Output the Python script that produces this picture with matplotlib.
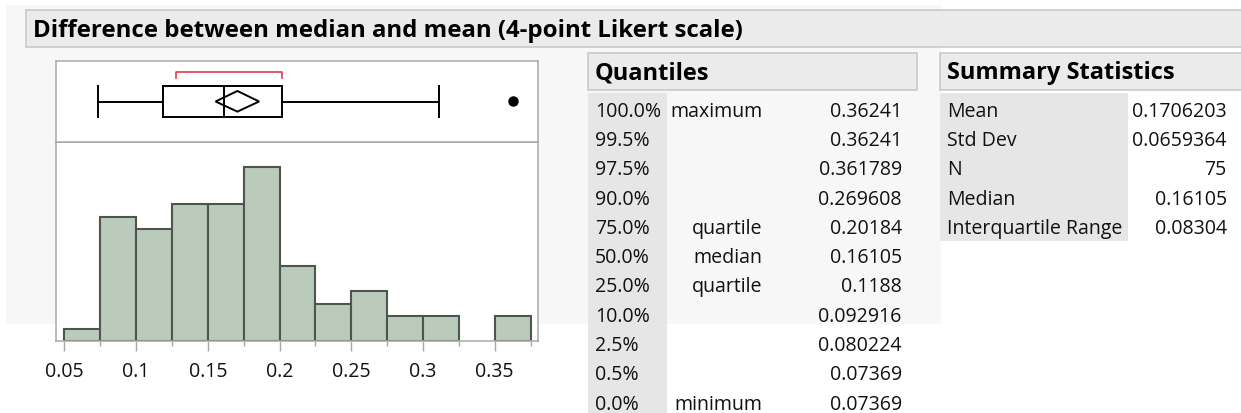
import matplotlib
matplotlib.use("Agg")
import matplotlib.pyplot as plt
from matplotlib.patches import Rectangle, Polygon
import numpy as np

# ---------------- data ----------------
title = "Difference between median and mean (4-point Likert scale)"

bin_edges = [0.05, 0.075, 0.1, 0.125, 0.15, 0.175, 0.2, 0.225, 0.25, 0.275,
             0.3, 0.325, 0.35, 0.375]
counts = [1, 10, 9, 11, 11, 14, 6, 3, 4, 2, 2, 0, 2]

xtick_values = [0.05, 0.1, 0.15, 0.2, 0.25, 0.3, 0.35]
xtick_labels = ["0.05", "0.1", "0.15", "0.2", "0.25", "0.3", "0.35"]
xminor_values = [0.075, 0.125, 0.175, 0.225, 0.275, 0.325, 0.375]

box_min = 0.07369
box_q1 = 0.1188
box_median = 0.16105
box_q3 = 0.20184
whisker_high = 0.3112
outliers = [0.36241]
mean_value = 0.1706203
std_dev = 0.0659364
n_obs = 75
t_crit = 1.9925
shortest_half = [0.1278, 0.2018]

quant_pcts = ["100.0%", "99.5%", "97.5%", "90.0%", "75.0%", "50.0%",
              "25.0%", "10.0%", "2.5%", "0.5%", "0.0%"]
quant_names = ["maximum", "", "", "", "quartile", "median", "quartile",
               "", "", "", "minimum"]
quant_values = ["0.36241", "0.36241", "0.361789", "0.269608", "0.20184",
                "0.16105", "0.1188", "0.092916", "0.080224", "0.07369",
                "0.07369"]

summary_labels = ["Mean", "Std Dev", "N", "Median", "Interquartile Range"]
summary_values = ["0.1706203", "0.0659364", "75", "0.16105", "0.08304"]

# ---------------- figure ----------------
W, H, DPI = 1241, 414, 100
FAMILY = "Open Sans"
TXT = "#111111"
FRAME = "#a8a8a8"

fig = plt.figure(figsize=(W / DPI, H / DPI), dpi=DPI)
fig.patch.set_facecolor("white")
renderer = fig.canvas.get_renderer()


def fit_size(text, target_px, weight="normal"):
    t = fig.text(0, 0, text, fontsize=20, family=FAMILY, weight=weight)
    w = t.get_window_extent(renderer=renderer).width
    t.remove()
    return 20 * target_px / w


body_fs = fit_size("Interquartile Range", 175)
title_fs = fit_size(title, 710, "bold")
head_fs = fit_size("Summary Statistics", 226.7, "bold")


def px_axes(x0, y0, x1, y1, **kw):
    return fig.add_axes([x0 / W, 1 - y1 / H, (x1 - x0) / W, (y1 - y0) / H], **kw)


# background / tables axes in pixel coordinates
bg = fig.add_axes([0, 0, 1, 1], zorder=0)
bg.set_xlim(0, W)
bg.set_ylim(H, 0)
bg.axis("off")

bg.add_patch(Rectangle((6, 6), 935, 319, fc="#f7f7f7", ec="none"))
# title bar
bg.add_patch(Rectangle((26, 11), W - 26 + 5, 36.5, fc="#ebebeb", ec="#c6c6c6", lw=1.1))
bg.text(33, 36.7, title, fontsize=title_fs, family=FAMILY, weight="bold",
        color="black", va="baseline", ha="left")

# Quantiles header + table
bg.add_patch(Rectangle((588, 54), 328.7, 37, fc="#ebebeb", ec="#c6c6c6", lw=1.1))
bg.text(595, 79.3, "Quantiles", fontsize=head_fs, family=FAMILY, weight="bold",
        color="black", va="baseline", ha="left")
bg.add_patch(Rectangle((588, 94), 78.7, 330, fc="#e6e6e6", ec="none"))

row_h = 29.3
base0 = 116.7
for i, (p, nm, v) in enumerate(zip(quant_pcts, quant_names, quant_values)):
    yb = base0 + row_h * i
    bg.text(595, yb, p, fontsize=body_fs, family=FAMILY, color=TXT,
            va="baseline", ha="left")
    if nm:
        bg.text(762.7, yb, nm, fontsize=body_fs, family=FAMILY, color=TXT,
                va="baseline", ha="right")
    bg.text(901.7, yb, v, fontsize=body_fs, family=FAMILY, color=TXT,
            va="baseline", ha="right")

# Summary Statistics header + table
bg.add_patch(Rectangle((940, 54), 310, 36.7, fc="#ebebeb", ec="#c6c6c6", lw=1.1))
bg.text(946.7, 79.3, "Summary Statistics", fontsize=head_fs, family=FAMILY,
        weight="bold", color="black", va="baseline", ha="left")
bg.add_patch(Rectangle((940, 94), 187.7, 147.7, fc="#e6e6e6", ec="none"))
for i, (lab, v) in enumerate(zip(summary_labels, summary_values)):
    yb = base0 + row_h * i
    bg.text(946.7, yb, lab, fontsize=body_fs, family=FAMILY, color=TXT,
            va="baseline", ha="left")
    bg.text(1226.7, yb, v, fontsize=body_fs, family=FAMILY, color=TXT,
            va="baseline", ha="right")

# ---------------- x scale ----------------
px_per_unit = 1434.7
x_left = 0.05 - (64.3 - 56) / px_per_unit
x_right = 0.05 + (538 - 64.3) / px_per_unit

# ---------------- histogram ----------------
axh = px_axes(56, 143, 538, 342, zorder=2)
axh.set_facecolor("white")
lefts = np.array(bin_edges[:-1])
widths = np.diff(bin_edges)
cnt = np.array(counts)
mask = cnt > 0
axh.bar(lefts[mask], cnt[mask], width=widths[mask], align="edge",
        color="#bacbbc", edgecolor="#4d554e", linewidth=1.5, zorder=2)
axh.set_xlim(x_left, x_right)
axh.set_ylim(0, 16.0)
axh.set_yticks([])
axh.set_xticks(xtick_values)
axh.set_xticklabels(xtick_labels, fontsize=body_fs, family=FAMILY, color=TXT)
axh.set_xticks(xminor_values, minor=True)
axh.tick_params(axis="x", which="major", length=7.2, width=1.0, color=FRAME, pad=7)
axh.tick_params(axis="x", which="minor", length=3.6, width=1.0, color=FRAME)
for s in axh.spines.values():
    s.set_color(FRAME)
    s.set_linewidth(1.1)
    s.set_zorder(3)

# ---------------- box plot ----------------
axb = px_axes(56, 62, 538, 143, zorder=2)
axb.set_facecolor("white")
axb.set_xlim(x_left, x_right)
axb.set_ylim(0, 1)
axb.set_xticks([])
axb.set_yticks([])
for s in axb.spines.values():
    s.set_color(FRAME)
    s.set_linewidth(1.1)

LW = 1.4
yb0, yb1, yc = 0.309, 0.691, 0.5
axb.plot([box_min, box_q1], [yc, yc], color="black", lw=LW)
axb.plot([box_q3, whisker_high], [yc, yc], color="black", lw=LW)
axb.plot([box_min, box_min], [yb0, yb1], color="black", lw=LW)
axb.plot([whisker_high, whisker_high], [yb0, yb1], color="black", lw=LW)
axb.add_patch(Rectangle((box_q1, yb0), box_q3 - box_q1, yb1 - yb0,
                        fc="none", ec="black", lw=LW))
axb.plot([box_median, box_median], [yb0, yb1], color="black", lw=LW)
ci = t_crit * std_dev / np.sqrt(n_obs)
axb.add_patch(Polygon([(mean_value - ci, yc), (mean_value, 0.63),
                       (mean_value + ci, yc), (mean_value, 0.375)],
                      closed=True, fc="none", ec="black", lw=LW))
axb.plot([shortest_half[0], shortest_half[0], shortest_half[1], shortest_half[1]],
         [0.79, 0.864, 0.864, 0.79], color="#e8394d", lw=1.2)
axb.plot(outliers, [yc + 0.01] * len(outliers), linestyle="none", marker="o",
         markersize=6.5, color="black")

fig.savefig("out.png", dpi=DPI)
